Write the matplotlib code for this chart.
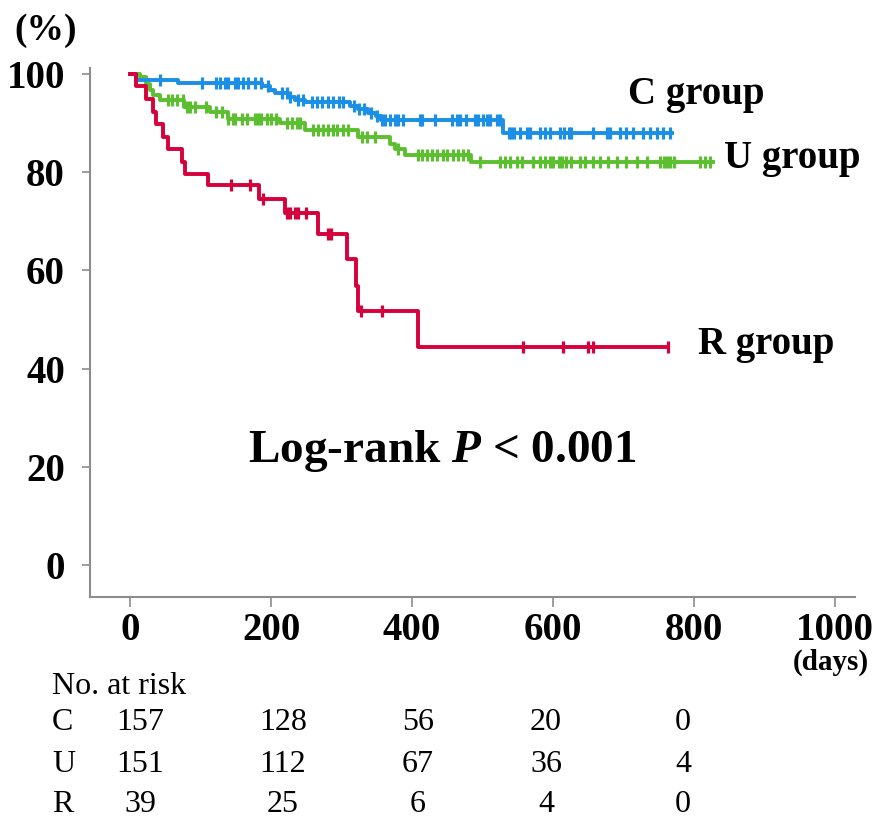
import numpy as np
import matplotlib
matplotlib.use("Agg")
import matplotlib.pyplot as plt

plt.rcParams["font.family"] = ["Liberation Serif", "DejaVu Serif"]
plt.rcParams["mathtext.fontset"] = "custom"
plt.rcParams["mathtext.rm"] = "Liberation Serif:bold"
plt.rcParams["mathtext.it"] = "Liberation Serif:bold:italic"

# ---- Kaplan-Meier steps (days, survival % after the drop)
c_times = [8, 68, 187, 199, 206, 224, 234, 248, 312, 323, 338, 349, 356, 529]
c_surv = [98.7, 98.1, 97.4, 96.7, 96.0, 95.3, 94.6, 94.2, 93.5, 92.8, 92.1, 91.3, 90.5, 87.9]
c_end = 769
c_cens = [43, 102, 122, 127, 134, 139, 149, 153, 160, 167, 177, 186, 195, 215, 222,
          227, 238, 245, 258, 265, 272, 280, 288, 296, 302, 318, 325, 332, 342, 350,
          357, 362, 369, 376, 380, 387, 411, 414, 433, 456, 463, 468, 477, 489, 494,
          501, 506, 511, 520, 525, 537, 541, 544, 553, 563, 567, 582, 589, 596, 610,
          615, 622, 626, 657, 676, 681, 695, 704, 714, 728, 738, 747, 756, 766]

u_times = [14, 23, 28, 33, 43, 77, 113, 139, 213, 248, 323, 369, 376, 390, 484]
u_surv = [99.3, 98.0, 96.7, 95.7, 94.7, 93.2, 92.2, 90.8, 89.9, 88.6, 87.2, 85.6,
          84.6, 83.5, 82.0]
u_end = 827
u_cens = [54, 59, 66, 75, 80, 85, 92, 108, 122, 130, 139, 146, 149, 158, 166, 177,
          182, 186, 194, 200, 207, 222, 230, 236, 241, 260, 267, 274, 281, 288, 294,
          302, 309, 329, 336, 348, 380, 409, 414, 421, 428, 435, 444, 450, 458, 465,
          472, 479, 496, 525, 532, 539, 549, 556, 571, 582, 589, 596, 600, 608, 612,
          619, 626, 638, 645, 657, 667, 678, 690, 704, 719, 733, 752, 757, 761, 766,
          771, 809, 816, 823]

r_times = [8, 23, 32, 36, 47, 54, 73, 78, 111, 183, 220, 267, 307, 321, 323, 409]
r_surv = [97.4, 94.9, 92.3, 89.7, 87.2, 84.6, 82.1, 79.6, 77.4, 74.6, 71.7, 67.4,
          62.2, 56.8, 51.7, 44.4]
r_end = 763
r_cens = [143, 170, 188, 223, 227, 234, 238, 250, 281, 285, 328, 357, 557, 614,
          650, 657, 763]

groups = ["C", "U", "R"]
risk_c = [157, 128, 56, 20, 0]
risk_u = [151, 112, 67, 36, 4]
risk_r = [39, 25, 6, 4, 0]

x_ticks = [0, 200, 400, 600, 800, 1000]
y_ticks = [0, 20, 40, 60, 80, 100]

BLUE, GREEN, RED = "#1b8fe6", "#5cbf30", "#d6003c"

fig = plt.figure(figsize=(8.73, 8.23), dpi=100)
ax = fig.add_axes([0.1031, 0.2746, 0.876, 0.643])


def km(ax, times, surv, end, cens, color):
    t = np.r_[0, times, end]
    s = np.r_[100, surv, surv[-1]]
    ax.step(t, s, where="post", color=color, lw=2.8, zorder=3)
    cens = np.asarray(cens, float)
    idx = np.searchsorted(t, cens, side="right") - 1
    ax.plot(cens, s[idx], ls="none", marker="|", ms=9, mew=2.3, color=color, zorder=4)


km(ax, u_times, u_surv, u_end, u_cens, GREEN)
km(ax, c_times, c_surv, c_end, c_cens, BLUE)
km(ax, r_times, r_surv, r_end, r_cens, RED)

ax.set_xlim(-57, 1028)
ax.set_ylim(-6.5, 101.2)
ax.set_xticks(x_ticks)
ax.set_yticks(y_ticks)
ax.set_xticklabels([str(v) for v in x_ticks], fontsize=28, fontweight="bold")
ax.set_yticklabels([str(v) for v in y_ticks], fontsize=28, fontweight="bold")
for side in ("top", "right"):
    ax.spines[side].set_visible(False)
for side in ("left", "bottom"):
    ax.spines[side].set_color("#8c8c8c")
    ax.spines[side].set_linewidth(1.5)
ax.tick_params(axis="y", length=6, width=1.2, color="#8c8c8c", pad=12)
ax.tick_params(axis="x", length=7, width=1.2, color="#8c8c8c", pad=4)

ax.text(706, 95.7, "C group", fontsize=28, fontweight="bold", va="center")
ax.text(843, 82.8, "U group", fontsize=28, fontweight="bold", va="center")
ax.text(806, 44.8, "R group", fontsize=28, fontweight="bold", va="center")
ax.text(443, 23.3, "Log-rank $P$ < 0.001", fontsize=34, fontweight="bold",
        ha="center", va="center")

W, H = 873, 823
fig.text(46 / W, 1 - 31 / H, "(%)", fontsize=27, fontweight="bold", ha="center", va="center")
fig.text(831 / W, 1 - 662 / H, "(days)", fontsize=21, fontweight="bold", ha="center", va="center")

# number-at-risk table
fig.text(52 / W, 1 - 686 / H, "No. at risk", fontsize=23, ha="left", va="center")
col_x = [140, 283, 418, 546, 683]
row_y = [722, 765, 805]
for g, vals, y in zip(groups, [risk_c, risk_u, risk_r], row_y):
    fig.text(52 / W, 1 - y / H, g, fontsize=23, ha="left", va="center")
    for v, x in zip(vals, col_x):
        fig.text(x / W, 1 - y / H, str(v), fontsize=23, ha="center", va="center")

fig.savefig("out.png", dpi=100)
